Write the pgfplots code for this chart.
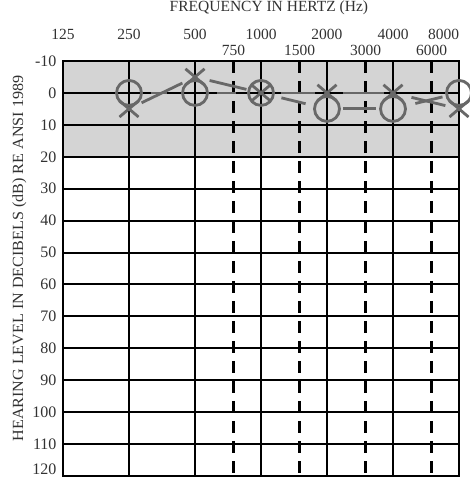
\documentclass[border=0pt]{standalone}
\usepackage{pgfplots}
\pgfplotsset{compat=1.18}
\usepackage{fontspec}
\setmainfont{Liberation Serif}
\newfontfamily\widefont{Liberation Serif}[FakeStretch=1.04]

\definecolor{zone}{RGB}{212,212,212}
\definecolor{mk}{RGB}{104,104,104}
\definecolor{txt}{RGB}{50,50,50}

% right ear (O) and left ear (X), dB HL
\pgfplotstableread{
f    db
250  0
500  0
1000 0
2000 5
4000 5
8000 0
}\rightear
\pgfplotstableread{
f    db
250  5
500  -5
1000 0
2000 0
4000 0
8000 5
}\leftear

\begin{document}
\begin{tikzpicture}
\pgfplotsset{set layers,
  seg/.style 2 args={draw=mk, line width=2.8pt, shorten <=#1, shorten >=#2, forget plot, mark=none}}
\begin{axis}[
  scale only axis, width=396pt, height=415pt,
  xmode=log, log basis x=2, xmin=125, xmax=8000,
  ymin=-10, ymax=120, y dir=reverse,
  clip=false,
  axis line style={line width=2pt},
  xtick={125,250,500,1000,2000,4000,8000},
  xticklabels={125,250,500,1000,2000,4000,\llap{8000}},
  extra x ticks={750,1500,3000,6000},
  extra x tick labels={750,1500,3000,6000},
  xticklabel pos=top,
  major tick length=0pt,
  ytick={-10,0,10,20,30,40,50,60,70,80,90,100,110,120},
  yticklabels={-10,0,10,20,30,40,50,60,70,80,90,100,110,\raisebox{14pt}{120}},
  grid=major,
  major grid style={black, line width=2pt},
  xticklabel style={anchor=base, yshift=21pt, font=\fontsize{15.5}{17}\selectfont, text=txt},
  yticklabel style={xshift=-3pt, font=\fontsize{16}{18}\selectfont, text=txt},
  extra x tick style={major grid style={black, line width=2.4pt, dash pattern=on 12pt off 8pt},
    xticklabel style={yshift=-16pt}},
  title={FREQUENCY IN HERTZ (Hz)},
  title style={at={(axis description cs:0.52,1)}, anchor=base, yshift=43pt,
    font=\fontsize{15.5}{17}\selectfont, text=txt},
  ylabel={HEARING LEVEL IN DECIBELS (dB) RE ANSI 1989},
  ylabel style={at={(axis description cs:-0.11,0.524)}, anchor=center, rotate=0,
    font=\widefont\fontsize{15.5}{17}\selectfont, text=txt},
]
\addplot[fill=zone, draw=none, on layer=axis background] coordinates {(125,-10) (8000,-10) (8000,20) (125,20)} -- cycle;

% connecting segments, right ear
\addplot[seg={22pt}{28pt}] coordinates {(250,0) (500,0)};
\addplot[seg={22pt}{25pt}] coordinates {(500,0) (1000,0)};
\addplot[seg={21pt}{22pt}] coordinates {(1000,0) (2000,5)};
\addplot[seg={16pt}{17pt}] coordinates {(2000,5) (4000,5)};
\addplot[seg={23pt}{17pt}] coordinates {(4000,5) (8000,0)};
% connecting segments, left ear
\addplot[seg={14pt}{14pt}] coordinates {(250,5) (500,-5)};
\addplot[seg={15pt}{15pt}] coordinates {(500,-5) (1000,0)};
\addplot[seg={20pt}{12pt}] coordinates {(1000,0) (2000,0)};
\addplot[seg={16pt}{9pt}] coordinates {(2000,0) (4000,0)};
\addplot[seg={19pt}{14pt}] coordinates {(4000,0) (8000,5)};

\addplot[only marks, mark=o, mark size=12.5pt, mark options={draw=mk, line width=2.8pt}] table[x=f, y=db] {\rightear};
\addplot[only marks, mark=x, mark size=13.5pt, mark options={draw=mk, line width=2.8pt, yscale=0.85}] table[x=f, y=db] {\leftear};
\end{axis}
\pgfresetboundingbox
\path (current axis.south west) ++(-63pt,-1pt) rectangle ([shift={(10pt,61pt)}]current axis.north east);
\end{tikzpicture}
\end{document}
